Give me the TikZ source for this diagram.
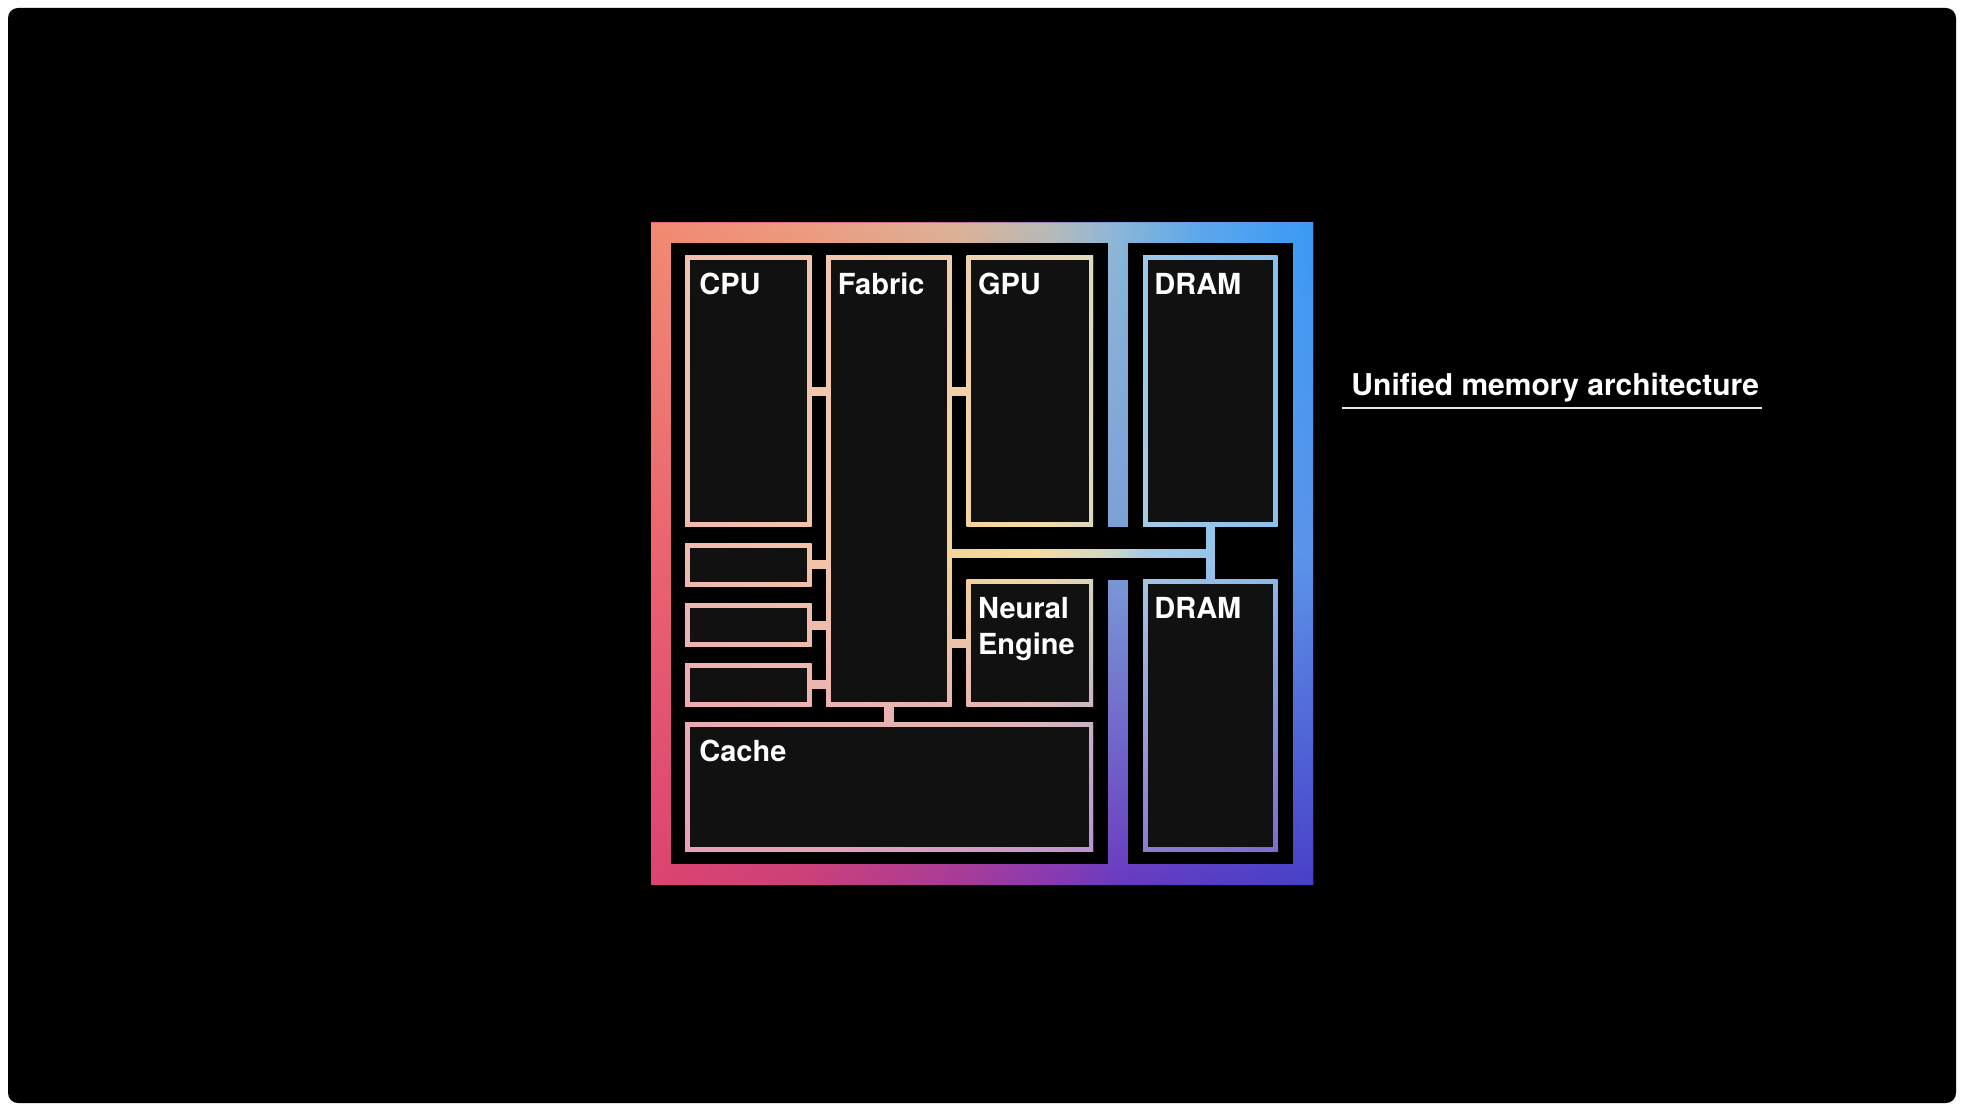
\documentclass[tikz,border=0pt]{standalone}
\usepackage{fontspec}
\setmainfont{TeX Gyre Heros}
\usetikzlibrary{calc,fit,fadings}

% vivid frame colours
\definecolor{vtA}{HTML}{F28A72}\definecolor{vtB}{HTML}{EE9C7E}\definecolor{vtC}{HTML}{DDB498}
\definecolor{vtD}{HTML}{B8BCB8}\definecolor{vtE}{HTML}{8CB8D8}\definecolor{vtF}{HTML}{5CA8EC}\definecolor{vtG}{HTML}{3A9AF6}
\definecolor{vmA}{HTML}{EC6470}\definecolor{vmB}{HTML}{D86880}\definecolor{vmC}{HTML}{C07098}
\definecolor{vmD}{HTML}{9C88C0}\definecolor{vmE}{HTML}{7AA0D8}\definecolor{vmF}{HTML}{6A9CE4}\definecolor{vmG}{HTML}{5A94EA}
\definecolor{vbA}{HTML}{DC4470}\definecolor{vbB}{HTML}{CC4078}\definecolor{vbC}{HTML}{A83A98}
\definecolor{vbD}{HTML}{8A38B0}\definecolor{vbE}{HTML}{6A3AC0}\definecolor{vbF}{HTML}{5A3CC4}\definecolor{vbG}{HTML}{4840C8}
% pastel outline colours
\definecolor{ptA}{HTML}{F3C2B0}\definecolor{ptB}{HTML}{F3C6AC}\definecolor{ptC}{HTML}{EDD0AE}
\definecolor{ptD}{HTML}{E2D8BC}\definecolor{ptE}{HTML}{9CC8EC}\definecolor{ptF}{HTML}{88C2F0}
\definecolor{pmA}{HTML}{F2BAB0}\definecolor{pmB}{HTML}{F4C6A6}\definecolor{pmC}{HTML}{F6D49A}
\definecolor{pmD}{HTML}{F6DEA2}\definecolor{pmE}{HTML}{D0D8C4}\definecolor{pmF}{HTML}{A8CCE4}
\definecolor{pmG}{HTML}{98C6EA}\definecolor{pmH}{HTML}{8CC0EC}
\definecolor{pbA}{HTML}{E8A0B8}\definecolor{pbB}{HTML}{E6A2BE}\definecolor{pbC}{HTML}{D69CC6}
\definecolor{pbD}{HTML}{BC94D2}\definecolor{pbE}{HTML}{8C7CD4}\definecolor{pbF}{HTML}{7E6CD0}
\definecolor{boxfill}{HTML}{111111}
\definecolor{ulcol}{HTML}{E6E6E6}

\pgfdeclarehorizontalshading{vivtop}{100bp}{color(0bp)=(vtA); color(25bp)=(vtA); color(36.3bp)=(vtB); color(48.3bp)=(vtC); color(55.1bp)=(vtD); color(60.2bp)=(vtE); color(66.5bp)=(vtF); color(75bp)=(vtG); color(100bp)=(vtG)}
\pgfdeclarehorizontalshading{vivmid}{100bp}{color(0bp)=(vmA); color(25bp)=(vmA); color(36.3bp)=(vmB); color(48.3bp)=(vmC); color(55.1bp)=(vmD); color(60.2bp)=(vmE); color(66.5bp)=(vmF); color(75bp)=(vmG); color(100bp)=(vmG)}
\pgfdeclarehorizontalshading{vivbot}{100bp}{color(0bp)=(vbA); color(25bp)=(vbA); color(36.3bp)=(vbB); color(48.3bp)=(vbC); color(55.1bp)=(vbD); color(60.2bp)=(vbE); color(66.5bp)=(vbF); color(75bp)=(vbG); color(100bp)=(vbG)}
\pgfdeclarehorizontalshading{pastop}{100bp}{color(0bp)=(ptA); color(25bp)=(ptA); color(37.2bp)=(ptB); color(48.2bp)=(ptC); color(59.4bp)=(ptD); color(63.6bp)=(ptE); color(75bp)=(ptF); color(100bp)=(ptF)}
\pgfdeclarehorizontalshading{pasmid}{100bp}{color(0bp)=(pmA); color(25bp)=(pmA); color(37.2bp)=(pmB); color(48.2bp)=(pmC); color(54.9bp)=(pmD); color(60.8bp)=(pmE); color(63.6bp)=(pmF); color(68.4bp)=(pmG); color(75bp)=(pmH); color(100bp)=(pmH)}
\pgfdeclarehorizontalshading{pasbot}{100bp}{color(0bp)=(pbA); color(25bp)=(pbA); color(37.2bp)=(pbB); color(48.2bp)=(pbC); color(59.4bp)=(pbD); color(63.6bp)=(pbE); color(75bp)=(pbF); color(100bp)=(pbF)}

\tikzfading[name=fadeTop, top color=transparent!0, bottom color=transparent!100, middle color=transparent!100]
\tikzfading[name=fadeBot, top color=transparent!100, bottom color=transparent!0, middle color=transparent!100]

\newcommand\pastelfill{%
  \shade[shading=pasmid] (685,256) rectangle (1278,851);
  \shade[shading=pastop, path fading=fadeTop] (685,256) rectangle (1278,851);
  \shade[shading=pasbot, path fading=fadeBot] (685,256) rectangle (1278,851);
}
% gradient outline + dark interior of a named block
\newcommand\outlineblock[1]{%
  \path[wire] (#1.north west) rectangle (#1.south east);
  \fill[boxfill] ($(#1.north west)+(4.5,4.5)$) rectangle ($(#1.south east)+(-4.5,-4.5)$);
}

\tikzset{
  chipbox/.style={inner sep=0pt, outer sep=0pt, draw=none, fill=none},
  wire/.style={path picture={\pastelfill}},
  lbl/.style={text=white, inner sep=0pt, anchor=base west,
    font=\bfseries\fontsize{14.5pt}{17.85pt}\selectfont},
  titlelbl/.style={lbl, font=\bfseries\fontsize{15pt}{18pt}\selectfont},
  ulstyle/.style={draw=ulcol, line width=1pt},
}

\begin{document}
\begin{tikzpicture}[x=0.5pt,y=-0.5pt]
\useasboundingbox (0,0) rectangle (1964,1112);
\fill[white] (0,0) rectangle (1964,1112);
\fill[black, rounded corners=5pt] (8,8) rectangle (1956,1103);

% gradient frame with the central bar
\shade[shading=vivmid] (651,223) rectangle (1313,884);
\shade[shading=vivtop, path fading=fadeTop] (651,223) rectangle (1313,884);
\shade[shading=vivbot, path fading=fadeBot] (651,223) rectangle (1313,884);
\fill[black] (671,243) rectangle (1107.5,864);
\fill[black] (1127.5,243) rectangle (1292.5,864);
\fill[black] (1100,526.7) rectangle (1135,580);

% blocks (named regions)
\node[chipbox, fit={(685,256) (811.5,526.7)}] (cpu) {};
\node[chipbox, fit={(826,256) (951.5,706.7)}] (fabric) {};
\node[chipbox, fit={(966.6,256) (1093.2,526.7)}] (gpu) {};
\node[chipbox, fit={(1143,256) (1277.5,526.7)}] (dramA) {};
\node[chipbox, fit={(685,543.5) (811.5,586)}] (sA) {};
\node[chipbox, fit={(685,603.5) (811.5,646.5)}] (sB) {};
\node[chipbox, fit={(685,663) (811.5,706.7)}] (sC) {};
\node[chipbox, fit={(966.6,579.5) (1093.2,706.7)}] (ne) {};
\node[chipbox, fit={(1143,579.5) (1277.5,851)}] (dramB) {};
\node[chipbox, fit={(685,722.5) (1093.2,851)}] (cache) {};

\outlineblock{cpu}
\outlineblock{fabric}
\outlineblock{gpu}
\outlineblock{dramA}
\outlineblock{sA}
\outlineblock{sB}
\outlineblock{sC}
\outlineblock{ne}
\outlineblock{dramB}
\outlineblock{cache}

% connectors
\path[wire] ($(cpu.east)+(0,-4)$) rectangle ($(fabric.west |- cpu.east)+(0,4)$);
\path[wire] ($(fabric.east |- gpu.west)+(0,-4)$) rectangle ($(gpu.west)+(0,4)$);
\path[wire] ($(sA.east)+(0,-4)$) rectangle ($(fabric.west |- sA.east)+(0,4)$);
\path[wire] ($(sB.east)+(0,-4)$) rectangle ($(fabric.west |- sB.east)+(0,4)$);
\path[wire] ($(sC.east)+(0,-4)$) rectangle ($(fabric.west |- sC.east)+(0,4)$);
\path[wire] ($(fabric.east |- ne.west)+(0,-4)$) rectangle ($(ne.west)+(0,4)$);
\path[wire] ($(fabric.south)+(-4.5,0)$) rectangle ($(cache.north -| fabric.south)+(4.5,0)$);
\coordinate (hub) at ($(dramA.south)!0.5!(dramB.north)$);
\path[wire] ($(fabric.east |- hub)+(0,-4)$) rectangle ($(hub)+(4,4)$);
\path[wire] ($(dramA.south)+(-4,0)$) rectangle ($(dramB.north)+(4,0)$);

% labels
\node[lbl] (tcpu) at ($(cpu.north west)+(14,39)$) {CPU};
\node[lbl] (tfab) at ($(fabric.north west)+(11.5,39)$) {Fabric};
\node[lbl] (tgpu) at ($(gpu.north west)+(11,39)$) {GPU};
\node[lbl] (tdramA) at ($(dramA.north west)+(11,39)$) {DRAM};
\node[lbl] (tne1) at ($(ne.north west)+(11,38.8)$) {Neural};
\node[lbl] (tne2) at ($(ne.north west)+(11,74.5)$) {Engine};
\node[lbl] (tdramB) at ($(dramB.north west)+(11,38.5)$) {DRAM};
\node[lbl] (tcache) at ($(cache.north west)+(14,39)$) {Cache};

% title
\node[titlelbl] (title) at (1351,395) {Unified memory architecture};
\coordinate (ulA) at (1341.7,408.3);
\coordinate (ulB) at (1761.7,408.3);
\draw[ulstyle] (ulA) -- (ulB);
\end{tikzpicture}
\end{document}
